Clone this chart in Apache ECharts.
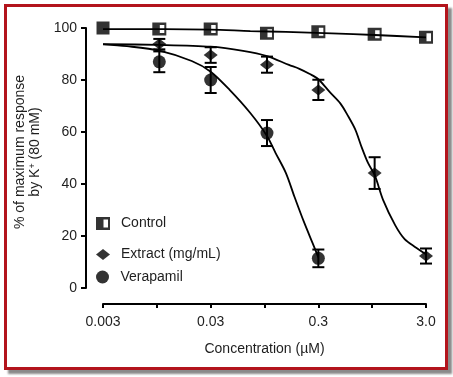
<!DOCTYPE html>
<html>
<head>
<meta charset="utf-8">
<script src="https://cdn.jsdelivr.net/npm/echarts@6/dist/echarts.min.js"></script>
<style>
  html, body { margin: 0; padding: 0; background: #fff; }
  #wrap { position: relative; width: 453px; height: 377px; overflow: hidden; }
  /* red frame with grey drop shadow, like the source figure */
  #frame {
    position: absolute; left: 4px; top: 4px; width: 438px; height: 360px;
    border: 3px solid #b3141c; box-shadow: 4px 4px 2px #8a8a8a; background: #fff;
  }
  #chart { position: absolute; left: 0; top: 0; width: 453px; height: 377px; }
</style>
</head>
<body>
<div id="wrap"><div id="frame"></div><div id="chart"></div></div>
<script>
  // ── Data ───────────────────────────────────────────────────────────────
  // Concentrations in µM; x axis is log10.
  const CONTROL_CONC = [0.003, 0.01, 0.03, 0.1, 0.3, 1, 3];
  const CONTROL = [100, 99.6, 99.6, 98.0, 98.6, 97.6, 96.4];

  const EXTRACT_CONC = [0.01, 0.03, 0.1, 0.3, 1, 3];
  const EXTRACT = [93.8, 89.6, 85.9, 76.2, 44.2, 12.3];
  const EXTRACT_ERR = [2.0, 3.0, 3.1, 3.9, 6.1, 2.9];

  const VERAP_CONC = [0.01, 0.03, 0.1, 0.3];
  const VERAP = [87.0, 80.0, 59.6, 11.4];
  const VERAP_ERR = [4.0, 5.0, 5.0, 3.4];

  // fitted curves
  const CONTROL_FIT_CONC = [0.003, 0.03, 0.07, 0.15, 0.4, 1, 3];
  const CONTROL_FIT = [99.6, 99.4, 98.8, 98.5, 97.9, 97.3, 96.4];

  const EXTRACT_FIT_CONC = [0.003, 0.01, 0.03, 0.06, 0.1, 0.16, 0.2, 0.25, 0.3, 0.38,
                            0.48, 0.56, 0.66, 0.76, 0.87, 1.0, 1.2, 1.55, 1.9, 2.35, 3.0];
  const EXTRACT_FIT = [93.8, 93.5, 92.8, 91.2, 89.2, 85.8, 84.3, 82.3, 80.3, 75.5,
                       71.0, 66.5, 61.0, 54.0, 48.0, 43.5, 33.8, 24.2, 18.8, 15.9, 13.0];

  const VERAP_FIT_CONC = [0.003, 0.005, 0.01, 0.02, 0.03, 0.045, 0.07, 0.1, 0.12,
                          0.15, 0.18, 0.22, 0.27, 0.3];
  const VERAP_FIT = [93.7, 93.0, 91.3, 87.3, 83.2, 76.2, 67.3, 58.5, 52.0,
                     44.2, 35.1, 25.5, 16.5, 11.8];

  const X_LABEL_CONC = [0.003, 0.03, 0.3, 3];
  const X_LABELS = ['0.003', '0.03', '0.3', '3.0'];
  const LEGEND_NAMES = ['Control', 'Extract (mg/mL)', 'Verapamil'];

  // ── Helpers ────────────────────────────────────────────────────────────
  const FONT = '"Liberation Sans", Arial, sans-serif';
  const TEXT = '#1e1e1e';
  const lg = Math.log10;
  const pairs = (xs, ys) => xs.map((c, i) => [lg(c), ys[i]]);

  // x axis runs half a decade per tick, starting at 0.003
  const X_MIN = Math.round(lg(CONTROL_CONC[0]) * 1000) / 1000;
  const X_MAX = Math.round(lg(CONTROL_CONC[CONTROL_CONC.length - 1]) * 1000) / 1000;

  function xLabel(v) {
    const c = Math.pow(10, v);
    for (let i = 0; i < X_LABEL_CONC.length; i++) {
      if (Math.abs(c / X_LABEL_CONC[i] - 1) < 0.02) return X_LABELS[i];
    }
    return '';
  }

  function fitLine(name, xs, ys) {
    return {
      name, type: 'line', data: pairs(xs, ys),
      smooth: 0.3, showSymbol: false, symbol: 'none',
      lineStyle: { color: '#000', width: 1.8 }, silent: true, z: 2, clip: false,
    };
  }

  function errorBars(xs, ys, errs) {
    return {
      type: 'custom', silent: true, z: 3, clip: false,
      encode: { x: 0, y: [1, 2] },
      data: xs.map((c, i) => [lg(c), ys[i] - errs[i], ys[i] + errs[i]]),
      renderItem(params, api) {
        const lo = api.coord([api.value(0), api.value(1)]);
        const hi = api.coord([api.value(0), api.value(2)]);
        const w = 6;
        const style = { stroke: '#000', lineWidth: 2 };
        return {
          type: 'group',
          children: [
            { type: 'line', shape: { x1: lo[0], y1: lo[1], x2: hi[0], y2: hi[1] }, style },
            { type: 'line', shape: { x1: hi[0] - w, y1: hi[1], x2: hi[0] + w, y2: hi[1] }, style },
            { type: 'line', shape: { x1: lo[0] - w, y1: lo[1], x2: lo[0] + w, y2: lo[1] }, style },
          ],
        };
      },
    };
  }

  const CONTROL_SYMBOL = 'path://M0,0H14V13H0Z M7.5,2.5V10.5H12V2.5Z';

  const chart = echarts.init(document.getElementById('chart'), null, { renderer: 'canvas' });

  const legendTops = [216.5, 247.5, 270];
  const legendSizes = [[14, 13], [14, 11], [14, 13]];

  chart.setOption({
    animation: false,
    backgroundColor: 'transparent',
    textStyle: { fontFamily: FONT, color: TEXT },
    grid: { left: 103, right: 27, top: 28, bottom: 89, containLabel: false },
    legend: LEGEND_NAMES.map((n, i) => ({
      data: [n], left: 96, top: legendTops[i], padding: 0,
      itemWidth: legendSizes[i][0], itemHeight: legendSizes[i][1],
      selectedMode: false,
      textStyle: { fontFamily: FONT, fontSize: 14, color: TEXT, padding: [0, 0, 0, 6] },
    })),
    xAxis: {
      type: 'value', min: X_MIN, max: X_MAX, interval: 0.5,
      position: 'bottom', offset: 16,
      axisLine: { show: true, onZero: false, lineStyle: { color: '#000', width: 2 } },
      axisTick: { show: true, length: 4, lineStyle: { color: '#000', width: 2 } },
      axisLabel: { margin: 11, fontFamily: FONT, fontSize: 14, color: TEXT, formatter: xLabel },
      splitLine: { show: false },
      name: 'Concentration (µM)', nameLocation: 'middle', nameGap: 38,
      nameTextStyle: { fontFamily: FONT, fontSize: 14, color: TEXT },
    },
    yAxis: {
      type: 'value', min: 0, max: 100, interval: 20,
      position: 'left', offset: 17,
      axisLine: { show: true, onZero: false, lineStyle: { color: '#000', width: 2 } },
      axisTick: { show: true, length: 5, lineStyle: { color: '#000', width: 2 } },
      axisLabel: { margin: 9, fontFamily: FONT, fontSize: 14, color: TEXT },
      splitLine: { show: false },
      name: '% of maximum response\nby K{sup|+} (80 mM)',
      nameLocation: 'middle', nameGap: 42, nameRotate: 90,
      nameTextStyle: {
        fontFamily: FONT, fontSize: 14, lineHeight: 15, color: TEXT, padding: [0, 0, 0, 12],
        rich: { sup: { fontFamily: FONT, fontSize: 9, lineHeight: 15, verticalAlign: 'top', color: TEXT } },
      },
    },
    series: [
      fitLine('Control fit', CONTROL_FIT_CONC, CONTROL_FIT),
      fitLine('Extract fit', EXTRACT_FIT_CONC, EXTRACT_FIT),
      fitLine('Verapamil fit', VERAP_FIT_CONC, VERAP_FIT),
      errorBars(EXTRACT_CONC, EXTRACT, EXTRACT_ERR),
      errorBars(VERAP_CONC, VERAP, VERAP_ERR),
      {
        name: LEGEND_NAMES[0], type: 'scatter', z: 4, clip: false,
        symbol: CONTROL_SYMBOL, symbolSize: [14, 13],
        itemStyle: { color: '#000' },
        // first point is drawn solid in the source figure
        data: pairs(CONTROL_CONC, CONTROL).map((p, i) => i === 0 ? { value: p, symbol: 'rect', symbolSize: [13, 13] } : p),
      },
      {
        name: LEGEND_NAMES[1], type: 'scatter', z: 4, clip: false,
        symbol: 'diamond', symbolSize: [14, 11],
        itemStyle: { color: '#000' },
        data: pairs(EXTRACT_CONC, EXTRACT),
      },
      {
        name: LEGEND_NAMES[2], type: 'scatter', z: 4, clip: false,
        symbol: 'circle', symbolSize: 13,
        itemStyle: { color: '#000' },
        data: pairs(VERAP_CONC, VERAP),
      },
    ],
  });
</script>
</body>
</html>
